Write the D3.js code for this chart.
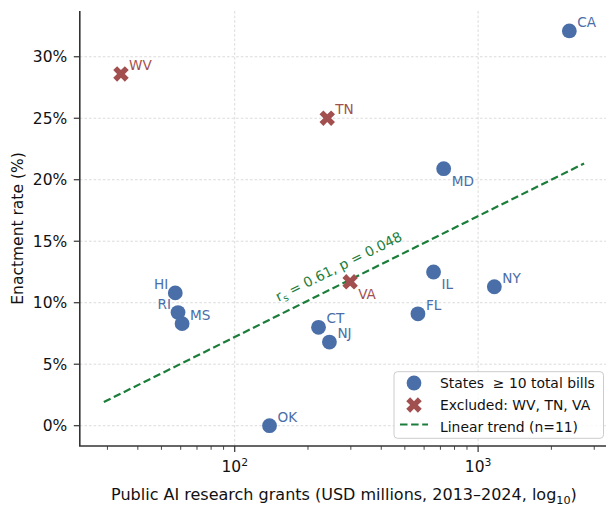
<!DOCTYPE html>
<html>
<head>
<meta charset="utf-8">
<script src="https://cdn.jsdelivr.net/npm/d3@7"></script>
<style>
  html, body { margin: 0; padding: 0; background: #fff; }
  svg { display: block; font-family: "DejaVu Sans", sans-serif; }
</style>
</head>
<body>
<svg id="chart" width="606" height="508"></svg>
<script>
// States with at least 10 total bills (used in the fit)
const states = ["CA", "MD", "HI", "RI", "MS", "OK", "CT", "NJ", "FL", "IL", "NY"];
const grants = [2370, 722, 57, 58.5, 60.8, 139, 221, 245, 566, 656, 1166];
const rates  = [32.1, 20.9, 10.8, 9.2, 8.3, 0.0, 8.0, 6.8, 9.1, 12.5, 11.3];

// Outliers left out of the fit
const excludedStates = ["WV", "TN", "VA"];
const excludedGrants = [34.1, 240, 298];
const excludedRates  = [28.6, 25.0, 11.7];

// Extent of the fitted line (USD millions)
const trendExtent = [29, 2725];

// Axis ticks
const yTicks = [0, 5, 10, 15, 20, 25, 30];
const yTickLabels = ["0%", "5%", "10%", "15%", "20%", "25%", "30%"];
const xTicks = [100, 1000];
const xTickBase = ["10", "10"];
const xTickExp = ["2", "3"];
const xMinorTicks = [30, 40, 50, 60, 70, 80, 90, 200, 300, 400, 500, 600, 700, 800, 900, 2000, 3000];

const legendLabels = ["States \u00a0\u2265 10 total bills", "Excluded: WV, TN, VA", "Linear trend (n=11)"];
const statText = { r: "0.61", p: "0.048" };

// ---- styling ----
const BLUE = "#4a6ea8";
const RED = "#a24f4f";
const GREEN = "#1b7d3a";
const AXIS = "#333333";
const GRID = "#d2d2d2";

// label placement around each marker
const labelSide = { MD: "below", IL: "below", VA: "below", HI: "left", RI: "left" };

const svg = d3.select("#chart");

const plotLeft = 79.8, plotBottom = 446, plotTop = 11, plotRight = 608.1;
const x = d3.scaleLog().domain([23.1, 3420]).range([plotLeft, plotRight]);
const y = d3.scaleLinear().domain([-1.65, 33.72]).range([plotBottom, plotTop]);

// grid
const grid = svg.append("g");
grid.selectAll("line.gy").data(yTicks).join("line")
  .attr("x1", plotLeft).attr("x2", plotRight)
  .attr("y1", d => y(d)).attr("y2", d => y(d))
  .attr("stroke", GRID).attr("stroke-width", 0.8).attr("stroke-dasharray", "2.6,2");
grid.selectAll("line.gx").data(xTicks).join("line")
  .attr("y1", plotTop).attr("y2", plotBottom)
  .attr("x1", d => x(d)).attr("x2", d => x(d))
  .attr("stroke", GRID).attr("stroke-width", 0.8).attr("stroke-dasharray", "2.6,2");

// least-squares fit of rate against log10(grants)
const lx = grants.map(v => Math.log10(v));
const mx = d3.mean(lx), my = d3.mean(rates);
const slope = d3.sum(lx, (v, i) => (v - mx) * (rates[i] - my)) / d3.sum(lx, v => (v - mx) ** 2);
const intercept = my - slope * mx;
const fit = v => intercept + slope * Math.log10(v);

const trendPts = trendExtent.map(v => [x(v), y(fit(v))]);
svg.append("path")
  .attr("d", d3.line()(trendPts))
  .attr("fill", "none").attr("stroke", GREEN).attr("stroke-width", 2.2)
  .attr("stroke-dasharray", "7.5,3.6");

// correlation annotation along the line
const angle = Math.atan2(trendPts[1][1] - trendPts[0][1], trendPts[1][0] - trendPts[0][0]) * 180 / Math.PI;
const annX = 287;
const ap = [x(annX), y(fit(annX))];
const rad = angle * Math.PI / 180;
const off = 12;
const ann = svg.append("text")
  .attr("transform", `translate(${ap[0] + off * Math.sin(rad)},${ap[1] - off * Math.cos(rad)}) rotate(${angle})`)
  .attr("text-anchor", "middle").attr("fill", GREEN).attr("font-size", 13.8);
ann.append("tspan").text("r");
ann.append("tspan").attr("font-size", 9.7).attr("dy", 3).text("s");
ann.append("tspan").attr("dy", -3).text(` = ${statText.r}, p = ${statText.p}`);

// markers
const inc = states.map((s, i) => ({ s, g: grants[i], r: rates[i] }));
const exc = excludedStates.map((s, i) => ({ s, g: excludedGrants[i], r: excludedRates[i] }));

svg.append("g").selectAll("circle").data(inc).join("circle")
  .attr("cx", d => x(d.g)).attr("cy", d => y(d.r)).attr("r", 7.4)
  .attr("fill", BLUE);

const xSym = d3.symbol().type(d3.symbolCross).size(150);
svg.append("g").selectAll("path").data(exc).join("path")
  .attr("d", xSym)
  .attr("transform", d => `translate(${x(d.g)},${y(d.r)}) rotate(45)`)
  .attr("fill", RED);

// state labels
function placeLabels(data, color) {
  svg.append("g").selectAll("text").data(data).join("text")
    .attr("x", d => x(d.g) + (labelSide[d.s] === "left" ? -7 : 8))
    .attr("y", d => y(d.r) + (labelSide[d.s] === "below" ? 17 : -4))
    .attr("text-anchor", d => labelSide[d.s] === "left" ? "end" : "start")
    .attr("fill", color).attr("font-size", 13.6)
    .text(d => d.s);
}
placeLabels(inc, BLUE);
placeLabels(exc, RED);

// axes
const axG = svg.append("g").attr("stroke", AXIS).attr("fill", "none");
axG.append("line").attr("x1", plotLeft).attr("x2", plotLeft).attr("y1", plotTop).attr("y2", plotBottom).attr("stroke-width", 1.6);
axG.append("line").attr("x1", plotLeft - 0.8).attr("x2", 606).attr("y1", plotBottom).attr("y2", plotBottom).attr("stroke-width", 1.6);

svg.append("g").selectAll("line").data(yTicks).join("line")
  .attr("x1", plotLeft - 6).attr("x2", plotLeft).attr("y1", d => y(d)).attr("y2", d => y(d))
  .attr("stroke", AXIS).attr("stroke-width", 1.2);
svg.append("g").selectAll("text").data(yTicks).join("text")
  .attr("x", plotLeft - 12.5).attr("y", d => y(d)).attr("dy", "0.36em")
  .attr("text-anchor", "end").attr("font-size", 15.5).attr("fill", "#111")
  .text((d, i) => yTickLabels[i]);

svg.append("g").selectAll("line").data(xTicks).join("line")
  .attr("x1", d => x(d)).attr("x2", d => x(d)).attr("y1", plotBottom).attr("y2", plotBottom + 6)
  .attr("stroke", AXIS).attr("stroke-width", 1.2);
svg.append("g").selectAll("line").data(xMinorTicks).join("line")
  .attr("x1", d => x(d)).attr("x2", d => x(d)).attr("y1", plotBottom).attr("y2", plotBottom + 3.8)
  .attr("stroke", AXIS).attr("stroke-width", 0.9);
const xt = svg.append("g").selectAll("text").data(xTicks).join("text")
  .attr("x", d => x(d)).attr("y", 471.5)
  .attr("text-anchor", "middle").attr("font-size", 15.5).attr("fill", "#111");
xt.append("tspan").text((d, i) => xTickBase[i]);
xt.append("tspan").attr("font-size", 10.8).attr("dy", -6).text((d, i) => xTickExp[i]);

// axis titles
const xl = svg.append("text")
  .attr("x", (plotLeft + plotRight) / 2).attr("y", 500)
  .attr("text-anchor", "middle").attr("font-size", 16).attr("fill", "#111");
xl.append("tspan").text("Public AI research grants (USD millions, 2013\u20132024, log");
xl.append("tspan").attr("font-size", 11.2).attr("dy", 3.5).text("10");
xl.append("tspan").attr("dy", -3.5).text(")");

svg.append("text")
  .attr("transform", `translate(23,${(plotTop + plotBottom) / 2}) rotate(-90)`)
  .attr("text-anchor", "middle").attr("font-size", 15.5).attr("fill", "#111")
  .text("Enactment rate (%)");

// legend
const lg = svg.append("g");
lg.append("rect").attr("x", 394).attr("y", 371.7).attr("width", 209.5).attr("height", 66.6)
  .attr("rx", 3.5).attr("fill", "#fff").attr("fill-opacity", 0.8)
  .attr("stroke", "#cccccc").attr("stroke-width", 1);
const rows = [387.5, 409.5, 431.5];
lg.append("circle").attr("cx", 414).attr("cy", rows[0] - 4.5).attr("r", 7.4).attr("fill", BLUE);
lg.append("path").attr("d", xSym).attr("transform", `translate(414,${rows[1] - 4.5}) rotate(45)`).attr("fill", RED);
lg.append("line").attr("x1", 400).attr("x2", 428).attr("y1", rows[2] - 7).attr("y2", rows[2] - 7)
  .attr("stroke", GREEN).attr("stroke-width", 2.2).attr("stroke-dasharray", "7.5,3.6");
lg.selectAll("text").data(legendLabels).join("text")
  .attr("x", 440).attr("y", (d, i) => rows[i])
  .attr("font-size", 13.9).attr("fill", "#111")
  .text(d => d);
</script>
</body>
</html>
